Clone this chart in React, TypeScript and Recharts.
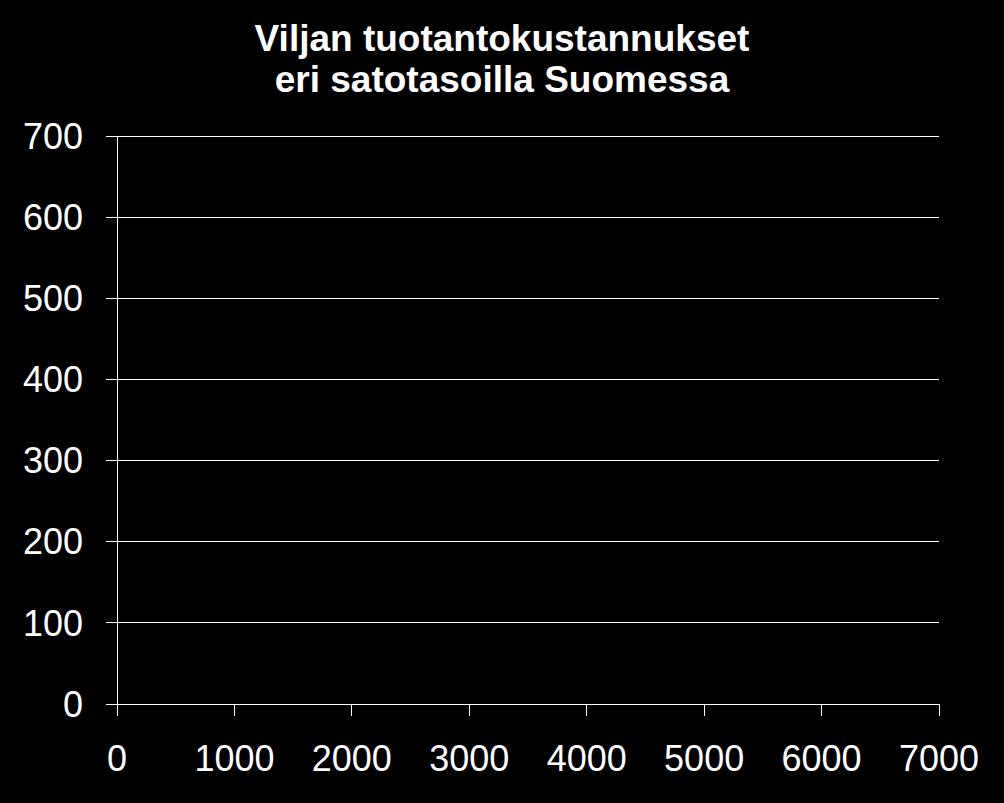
import { ScatterChart, Scatter, XAxis, YAxis, CartesianGrid } from 'recharts'

// Sadon määrä (kg/ha) ja tuotantokustannus – kuvassa ei ole yhtään pistettä
const yieldTicks = [0, 1000, 2000, 3000, 4000, 5000, 6000, 7000]
const costTicks = [0, 100, 200, 300, 400, 500, 600, 700]
const costPoints: { yieldKg: number; cost: number }[] = []

const titleLines = ['Viljan tuotantokustannukset', 'eri satotasoilla Suomessa']

const FONT = '"Liberation Sans", Arial, sans-serif'
const crisp = { stroke: '#fff', shapeRendering: 'crispEdges' }

export default function App() {
  return (
    <div style={{ position: 'absolute', left: 0, top: 0, width: 1004, height: 803, background: '#000' }}>
      <ScatterChart width={1004} height={803} margin={{ top: 136, right: 65, left: 0, bottom: 0 }}>
        <CartesianGrid horizontal vertical={false} stroke="#fff" strokeWidth={1} shapeRendering="crispEdges" />
        <XAxis
          type="number"
          dataKey="yieldKg"
          domain={[0, 7000]}
          allowDataOverflow
          ticks={yieldTicks}
          interval={0}
          height={99}
          tickSize={12}
          tickMargin={29}
          stroke="#fff"
          axisLine={crisp}
          tickLine={crisp}
          tick={{ fill: '#fff', fontSize: 36, fontFamily: FONT }}
        />
        <YAxis
          type="number"
          dataKey="cost"
          domain={[0, 700]}
          allowDataOverflow
          ticks={costTicks}
          interval={0}
          width={117}
          tickSize={11}
          tickMargin={23}
          stroke="#fff"
          axisLine={crisp}
          tickLine={crisp}
          tick={{ fill: '#fff', fontSize: 36, fontFamily: FONT }}
        />
        <Scatter data={costPoints} fill="#fff" isAnimationActive={false} />
      </ScatterChart>
      <svg width={1004} height={110} style={{ position: 'absolute', left: 0, top: 0 }}>
        {titleLines.map((line, i) => (
          <text
            key={line}
            x={502}
            y={51 + i * 41}
            textAnchor="middle"
            fill="#fff"
            fontFamily={FONT}
            fontWeight="bold"
            fontSize={37}
          >
            {line}
          </text>
        ))}
      </svg>
    </div>
  )
}
